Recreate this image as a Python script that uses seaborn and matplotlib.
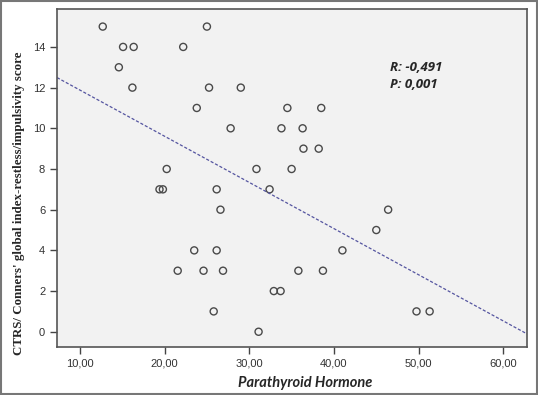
import numpy as np
import pandas as pd
import matplotlib
matplotlib.use("Agg")
import matplotlib.pyplot as plt
import seaborn as sns
from matplotlib.patches import Rectangle

# data
pth = [12.7, 15.1, 16.35, 14.6, 16.2, 25.0, 22.2, 25.25, 29.0, 23.8, 27.8,
       20.25, 30.85, 19.4, 19.8, 26.15, 32.4,
       34.5, 38.5, 33.8, 36.3, 36.4, 38.2, 35.0,
       26.6, 23.5, 26.15, 21.55, 24.6, 26.9, 25.8, 31.1,
       46.4, 45.0, 41.0, 35.8, 38.7, 32.9, 33.7, 49.75, 51.3]
ctrs = [15, 14, 14, 13, 12, 15, 14, 12, 12, 11, 10,
        8, 8, 7, 7, 7, 7,
        11, 11, 10, 10, 9, 9, 8,
        6, 4, 4, 3, 3, 3, 1, 0,
        6, 5, 4, 3, 3, 2, 2, 1, 1]
fit_intercept = 14.15
fit_slope = -0.227
x_ticks = [10, 20, 30, 40, 50, 60]
y_ticks = [0, 2, 4, 6, 8, 10, 12, 14]

df = pd.DataFrame({"PTH": pth, "CTRS": ctrs})

sns.set_style("ticks")
fig = plt.figure(figsize=(5.38, 3.95), dpi=100)
ax = fig.add_axes([0.106, 0.1215, 0.8736, 0.8555])
ax.set_facecolor("#f2f2f2")

sns.scatterplot(data=df, x="PTH", y="CTRS", ax=ax, marker="o", s=26,
                facecolor="none", edgecolor="#4a4a4a", linewidth=1.0)

ax.set_xlim(7.3, 62.8)
ax.set_ylim(-0.75, 15.86)
ax.axline((0, fit_intercept), slope=fit_slope, color="#5555a0",
          linestyle=(0, (2.5, 1.5)), linewidth=0.9)

ax.set_xticks(x_ticks)
ax.set_xticklabels([f"{v},00" for v in x_ticks])
ax.set_yticks(y_ticks)
ax.tick_params(axis="both", direction="out", length=5, width=1, color="#444",
               labelsize=8, labelcolor="#333")
for lbl in ax.get_xticklabels() + ax.get_yticklabels():
    lbl.set_fontfamily("Liberation Sans")
for s in ax.spines.values():
    s.set_color("#555")
    s.set_linewidth(1.2)

ax.set_xlabel("Parathyroid Hormone", fontsize=10.5, fontweight="bold",
              fontstyle="italic", fontfamily="Lato")
ax.xaxis.set_label_coords(0.528, -0.085)
ax.set_ylabel("CTRS/ Conners' global index-restless/impulsivity score",
              fontsize=9.3, fontweight="bold", fontfamily="Liberation Serif")
ax.yaxis.set_label_coords(-0.068, 0.426)

ax.text(0.708, 0.817, "R: -0,491", transform=ax.transAxes, fontsize=9.5,
        fontweight="bold", fontstyle="italic", fontfamily="Open Sans", va="baseline")
ax.text(0.708, 0.766, "P: 0,001", transform=ax.transAxes, fontsize=9.5,
        fontweight="bold", fontstyle="italic", fontfamily="Open Sans", va="baseline")

fig.patches.append(Rectangle((0.002, 0.003), 0.996, 0.994, transform=fig.transFigure,
                             fill=False, edgecolor="#777", linewidth=1.5))

fig.savefig("out.png", dpi=100)
